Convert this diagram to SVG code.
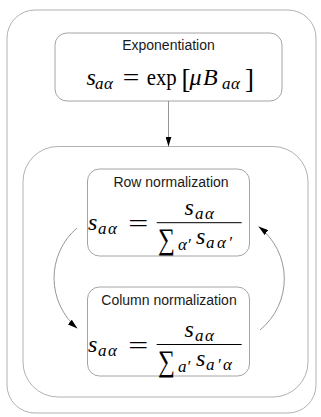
<svg xmlns="http://www.w3.org/2000/svg" width="321" height="417" viewBox="0 0 321 417">
<defs>
<style>
.box{fill:#fff;stroke:#9a9a9a;stroke-width:0.9}
.frame{fill:none;stroke:#a8a8a8;stroke-width:0.9}
.title{font-family:"Liberation Sans",Arial,sans-serif;font-size:14px;fill:#1a1a1a;text-anchor:middle}
.mi{font-family:"Liberation Serif","Times New Roman",serif;font-size:24px;font-style:italic;fill:#000}
.mu{font-family:"Liberation Serif","Times New Roman",serif;font-size:23px;fill:#000}
.si{font-family:"Liberation Serif","Times New Roman",serif;font-size:17px;font-style:italic;fill:#000}
.conn{fill:none;stroke:#8a8a8a;stroke-width:0.9}
</style>
<marker id="ah" viewBox="0 0 10 6" refX="10" refY="3" markerWidth="10" markerHeight="6" markerUnits="userSpaceOnUse" orient="auto">
<path d="M0,0 L10,3 L0,6 Z" fill="#000"/>
</marker>
</defs>
<rect class="frame" x="7" y="10" width="309" height="403" rx="28" ry="28"/>
<rect id="loop" class="frame" x="23" y="146.5" width="285" height="250.5" rx="35" ry="35"/>

<g id="exponentiation">
<rect class="box" x="55" y="33" width="227" height="68" rx="12" ry="12"/>
<text class="title" x="168.5" y="50">Exponentiation</text>
<text class="mi" x="86.5" y="85">s</text>
<text class="si" x="95" y="88.5" textLength="18" lengthAdjust="spacing">aα</text>
<text class="mu" x="122.7" y="85" textLength="16.6" lengthAdjust="spacingAndGlyphs">=</text>
<text class="mu" x="146.7" y="85" textLength="30" lengthAdjust="spacingAndGlyphs">exp</text>
<text class="mu" x="181.5" y="87.5" style="font-size:27px">[</text>
<text class="mi" x="189.5" y="85">μ</text>
<text class="mi" x="203" y="85">B</text>
<text class="si" x="222" y="88.5" textLength="18" lengthAdjust="spacing">aα</text>
<text class="mu" x="245" y="87.5" style="font-size:27px">]</text>
</g>

<g id="row-normalization">
<rect class="box" x="87.5" y="169" width="162" height="87" rx="12" ry="12"/>
<text class="title" x="171" y="187">Row normalization</text>
<text class="mi" x="88" y="230">s</text>
<text class="si" x="98" y="233.5" textLength="19" lengthAdjust="spacing">aα</text>
<text class="mu" x="128.3" y="231" textLength="20" lengthAdjust="spacingAndGlyphs">=</text>
<line x1="156.7" y1="222.7" x2="241.7" y2="222.7" stroke="#000" stroke-width="1"/>
<text class="mi" x="184.5" y="215">s</text>
<text class="si" x="195" y="218.5" textLength="19" lengthAdjust="spacing">aα</text>
<text class="mu" x="158" y="249" style="font-size:30px" textLength="17" lengthAdjust="spacingAndGlyphs">∑</text>
<text class="si" x="178" y="249.5">α′</text>
<text class="mi" x="196" y="244">s</text>
<text class="si" x="206" y="248" textLength="26" lengthAdjust="spacing">aα′</text>
</g>

<g id="column-normalization">
<rect class="box" x="87.5" y="287" width="162" height="89" rx="12" ry="12"/>
<text class="title" x="169" y="304.5">Column normalization</text>
<text class="mi" x="88" y="352">s</text>
<text class="si" x="98" y="355.5" textLength="19" lengthAdjust="spacing">aα</text>
<text class="mu" x="128.3" y="353" textLength="20" lengthAdjust="spacingAndGlyphs">=</text>
<line x1="156.7" y1="344.5" x2="241.7" y2="344.5" stroke="#000" stroke-width="1"/>
<text class="mi" x="184.5" y="337">s</text>
<text class="si" x="195" y="340.5" textLength="19" lengthAdjust="spacing">aα</text>
<text class="mu" x="158" y="371" style="font-size:30px" textLength="17" lengthAdjust="spacingAndGlyphs">∑</text>
<text class="si" x="178" y="371.5">a′</text>
<text class="mi" x="196" y="366">s</text>
<text class="si" x="206" y="370" textLength="26" lengthAdjust="spacing">a′α</text>
</g>

<g id="connectors">
<line class="conn" x1="168.5" y1="101" x2="168.5" y2="146.5" marker-end="url(#ah)"/>
<path class="conn" d="M77,228 A66,66 0 0,0 77.5,328.5" marker-end="url(#ah)"/>
<path class="conn" d="M260,330 A66,66 0 0,0 258.5,226.5" marker-end="url(#ah)"/>
</g>
</svg>
